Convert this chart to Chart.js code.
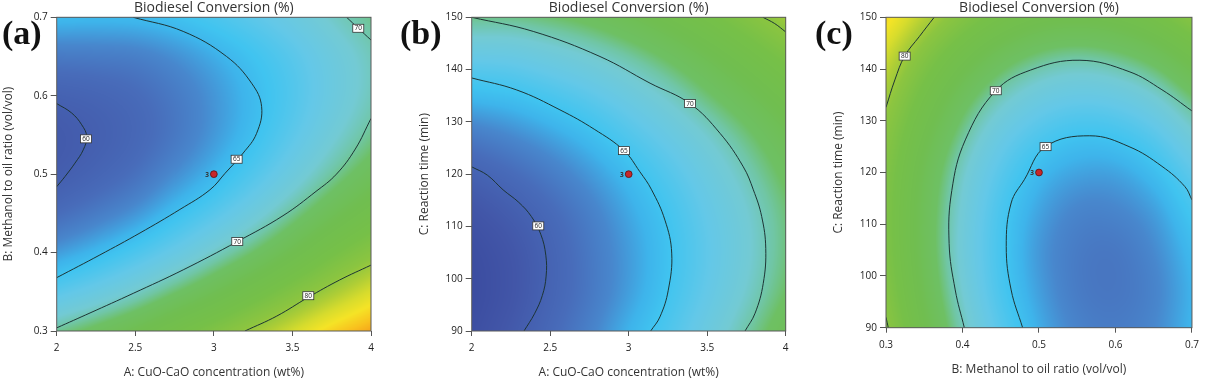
<!DOCTYPE html>
<html><head><meta charset="utf-8">
<script src="https://cdn.jsdelivr.net/npm/chart.js@4.4.1/dist/chart.umd.min.js"></script>
<style>
html,body{margin:0;padding:0;background:#fff;}
body{width:1205px;height:380px;position:relative;overflow:hidden;}
.pane{position:absolute;top:0;height:380px;}
.plabel{position:absolute;font:bold 34px "Liberation Serif","Times New Roman",serif;line-height:1;color:#111;}
</style></head><body>
<div class="pane" style="left:0px;width:400px"><canvas id="ca" width="400" height="380"></canvas></div>
<div class="pane" style="left:416px;width:400px"><canvas id="cb" width="400" height="380"></canvas></div>
<div class="pane" style="left:830px;width:375px"><canvas id="cc" width="375" height="380"></canvas></div>
<div class="plabel" style="left:2px;top:16px">(a)</div>
<div class="plabel" style="left:400px;top:16px">(b)</div>
<div class="plabel" style="left:815px;top:16px">(c)</div>
<script>
// ---------- text ----------
const chartTitle = 'Biodiesel Conversion (%)';
const titleA = 'A: CuO-CaO concentration (wt%)';
const titleB = 'B: Methanol to oil ratio (vol/vol)';
const titleC = 'C: Reaction time (min)';

// ---------- ticks ----------
const ticksA = [2, 2.5, 3, 3.5, 4];
const tickLabelsA = ['2', '2.5', '3', '3.5', '4'];
const ticksB = [0.3, 0.4, 0.5, 0.6, 0.7];
const tickLabelsB = ['0.3', '0.4', '0.5', '0.6', '0.7'];
const ticksC = [90, 100, 110, 120, 130, 140, 150];
const tickLabelsC = ['90', '100', '110', '120', '130', '140', '150'];

// ---------- response grids ----------
const gridA = [2, 2.25, 2.5, 2.75, 3, 3.25, 3.5, 3.75, 4];
const gridB = [0.7, 0.65, 0.6, 0.55, 0.5, 0.45, 0.4, 0.35, 0.3];        // top -> bottom
const gridBx = [0.3, 0.35, 0.4, 0.45, 0.5, 0.55, 0.6, 0.65, 0.7];       // left -> right
const gridC = [150, 142.5, 135, 127.5, 120, 112.5, 105, 97.5, 90];      // top -> bottom

// (a) conversion vs A (columns) and B (rows)
const convAB = [
  [64.4,64.3,64.4,64.8,65.6,66.6,67.8,69.3,70.7],
  [61.8,61.9,62.1,62.8,63.8,65.0,66.4,68.1,69.7],
  [60.1,60.4,60.9,61.8,63.0,64.4,66.0,67.9,69.7],
  [59.4,59.9,60.6,61.7,63.1,64.7,66.6,68.7,70.7],
  [59.7,60.4,61.3,62.7,64.2,66.0,68.1,70.4,72.6],
  [61.0,61.9,63.0,64.6,66.3,68.3,70.6,73.1,75.5],
  [63.2,64.3,65.7,67.4,69.4,71.5,74.0,76.8,79.4],
  [66.4,67.7,69.3,71.3,73.4,75.8,78.5,81.4,84.3],
  [70.6,72.1,73.9,76.1,78.4,81.0,83.9,87.1,89.5]
];
// (b) conversion vs A (columns) and C (rows)
const convAC = [
  [70.8,70.8,71.3,72.1,73.3,74.8,76.6,78.7,81.1],
  [67.3,67.5,68.2,69.1,70.3,71.8,73.6,75.6,77.8],
  [64.4,64.8,65.6,66.6,67.9,69.4,71.2,73.1,75.2],
  [61.9,62.6,63.5,64.6,66.0,67.5,69.2,71.1,73.2],
  [60.1,60.9,61.9,63.1,64.5,66.1,67.9,69.8,71.9],
  [58.8,59.7,60.8,62.1,63.6,65.2,67.1,69.0,71.1],
  [58.0,59.0,60.3,61.7,63.2,64.9,66.8,68.8,71.0],
  [57.8,58.9,60.3,61.7,63.3,65.1,67.1,69.2,71.5],
  [58.1,59.3,60.7,62.2,64.0,65.8,67.9,70.2,72.7]
];
// (c) conversion vs B (columns) and C (rows)
const convBC = [
  [86.8,82.3,78.8,76.3,74.8,74.4,74.9,76.5,79.2],
  [83.6,78.9,75.3,72.7,71.1,70.5,71.0,72.4,74.9],
  [81.2,76.4,72.6,69.9,68.2,67.5,67.8,69.1,71.5],
  [79.5,74.6,70.7,67.8,66.0,65.1,65.3,66.5,68.8],
  [78.5,73.4,69.4,66.4,64.4,63.5,63.5,64.6,66.7],
  [78.1,72.9,68.8,65.6,63.5,62.4,62.4,63.3,65.3],
  [78.2,72.9,68.6,65.4,63.1,61.9,61.7,62.6,64.4],
  [78.8,73.4,69.0,65.6,63.3,61.9,61.6,62.3,64.0],
  [79.9,74.3,69.8,66.3,63.8,62.3,61.9,62.5,64.1]
];

// ---------- contour lines ----------
const a60 = [[2.0,0.590],[2.095,0.578],[2.159,0.563],[2.191,0.548],[2.169,0.531],[2.116,0.514],[2.053,0.497],[2.0,0.484]];
const a65 = [[2.487,0.700],[2.805,0.682],[3.081,0.650],[3.240,0.616],[3.304,0.586],[3.272,0.552],[3.187,0.527],[3.071,0.501],[2.975,0.480],[2.784,0.455],[2.530,0.425],[2.275,0.397],[2.0,0.368]];
const a70lo = [[4.0,0.571],[3.90,0.532],[3.78,0.500],[3.65,0.478],[3.44,0.447],[3.149,0.414],[2.805,0.378],[2.487,0.348],[2.212,0.323],[2.0,0.304]];
const a70up = [[3.845,0.700],[3.919,0.686],[4.0,0.671]];
const a80 = [[3.198,0.300],[3.40,0.319],[3.601,0.343],[3.80,0.365],[4.0,0.384]];

const b60 = [[2.0,121.4],[2.1,119.8],[2.2,117.0],[2.3,114.6],[2.38,111.9],[2.44,108.5],[2.472,104.5],[2.474,100.5],[2.45,96.8],[2.40,93.3],[2.333,90.0]];
const b65 = [[2.0,138.4],[2.287,136.1],[2.562,132.3],[2.78,128.6],[2.97,124.5],[3.07,120.5],[3.146,117.0],[3.231,111.2],[3.274,104.9],[3.252,97.8],[3.199,92.7],[3.14,90.0]];
const b70 = [[2.0,150.0],[2.392,147.3],[2.817,142.5],[3.136,137.4],[3.390,133.5],[3.582,127.8],[3.730,121.4],[3.794,117.0],[3.847,111.9],[3.873,105.8],[3.857,99.1],[3.805,93.4],[3.741,90.0]];
const b80 = [[3.855,150.0],[3.93,148.8],[4.0,147.2]];

const c80top = [[0.363,150.0],[0.3437,146.3],[0.3244,142.5],[0.3116,137.9],[0.3,132.6]];
const c80low = [[0.3,92.0],[0.3015,91.0],[0.303,90.0]];
const c70 = [[0.4024,90.0],[0.3905,97.3],[0.3825,106.3],[0.386,116.5],[0.4037,126.3],[0.4435,135.8],[0.489,139.8],[0.5535,141.7],[0.6178,139.5],[0.6607,136.0],[0.7,131.9]];
const c65 = [[0.4786,90.0],[0.4636,97.3],[0.4572,105.7],[0.4636,114.1],[0.4808,118.6],[0.5086,125.0],[0.5664,127.1],[0.6178,125.0],[0.6607,121.2],[0.6906,117.3],[0.7,114.7]];

// ---------- contour labels ----------
const labelsAB = [[2.186,0.545,'60'],[3.145,0.519,'65'],[3.149,0.414,'70'],[3.919,0.686,'70'],[3.601,0.345,'80']];
const labelsAC = [[2.424,110.1,'60'],[2.97,124.5,'65'],[3.39,133.5,'70']];
const labelsBC = [[0.3244,142.5,'80'],[0.4435,135.8,'70'],[0.5086,125.0,'65']];

// ---------- design (centre) points ----------
const centreAB = [3, 0.5];
const centreAC = [3, 120];
const centreBC = [0.5, 120];
const centreRuns = '3';

// ---------- colour map ----------
const colorStops = [
  [57,[55,70,155]],[59,[66,86,168]],[61,[72,108,186]],[62.5,[72,135,205]],[64,[62,180,235]],
  [65,[64,196,240]],[67,[100,200,232]],[69,[115,202,212]],[70.3,[112,198,165]],[71.5,[110,192,100]],
  [74,[112,190,80]],[77,[118,192,72]],[80,[140,197,64]],[82,[175,206,54]],[84,[215,220,45]],
  [86,[245,228,38]],[88,[248,195,30]],[90,[245,155,25]]
];
function colorFor(v){
  if (v <= colorStops[0][0]) return colorStops[0][1];
  for (let i = 1; i < colorStops.length; i++){
    if (v <= colorStops[i][0]){
      const [v0,c0] = colorStops[i-1], [v1,c1] = colorStops[i];
      const t = (v - v0)/(v1 - v0);
      return [c0[0]+(c1[0]-c0[0])*t, c0[1]+(c1[1]-c0[1])*t, c0[2]+(c1[2]-c0[2])*t];
    }
  }
  return colorStops[colorStops.length-1][1];
}
function cr(p0,p1,p2,p3,t){return p1+0.5*t*(p2-p0+t*(2*p0-5*p1+4*p2-p3+t*(3*(p1-p2)+p3-p0)));}
function sampleGrid(Z, fx, fy){
  const ny = Z.length, nx = Z[0].length;
  const ix = Math.min(Math.max(Math.floor(fx),0),nx-2), iy = Math.min(Math.max(Math.floor(fy),0),ny-2);
  const tx = fx-ix, ty = fy-iy;
  const g = (r,c) => {
    if (c < 0) return 2*g(r,0)-g(r,1);
    if (c > nx-1) return 2*g(r,nx-1)-g(r,nx-2);
    if (r < 0) return 2*Z[0][c]-Z[1][c];
    if (r > ny-1) return 2*Z[ny-1][c]-Z[ny-2][c];
    return Z[r][c];
  };
  const rows = [];
  for (let k=-1;k<=2;k++){const r=iy+k; rows.push(cr(g(r,ix-1),g(r,ix),g(r,ix+1),g(r,ix+2),tx));}
  return cr(rows[0],rows[1],rows[2],rows[3],ty);
}

const FONT = '"Open Sans", "DejaVu Sans", sans-serif';

const heatPlugin = {
  id: 'heat',
  beforeDatasetsDraw(chart){
    const p = chart.options.plugins.heat;
    const {left,top,right,bottom} = chart.chartArea;
    const xs = chart.scales.x, ys = chart.scales.y;
    const w = Math.round(right-left), h = Math.round(bottom-top);
    const off = document.createElement('canvas'); off.width = w; off.height = h;
    const octx = off.getContext('2d'); const img = octx.createImageData(w,h);
    const gx = p.gx, gy = p.gy, Z = p.z;
    for (let j=0;j<h;j++){
      const vy = ys.getValueForPixel(top + (j+0.5)*(bottom-top)/h);
      const fy = (vy-gy[0])/(gy[gy.length-1]-gy[0])*(gy.length-1);
      for (let i=0;i<w;i++){
        const vx = xs.getValueForPixel(left + (i+0.5)*(right-left)/w);
        const fx = (vx-gx[0])/(gx[gx.length-1]-gx[0])*(gx.length-1);
        const c = colorFor(sampleGrid(Z,fx,fy));
        const k = (j*w+i)*4;
        img.data[k]=c[0]; img.data[k+1]=c[1]; img.data[k+2]=c[2]; img.data[k+3]=255;
      }
    }
    octx.putImageData(img,0,0);
    chart.ctx.drawImage(off,left,top,right-left,bottom-top);
  },
  afterDatasetsDraw(chart){
    const p = chart.options.plugins.heat;
    const ctx = chart.ctx, xs = chart.scales.x, ys = chart.scales.y;
    const {left,top,right,bottom} = chart.chartArea;
    ctx.save();
    ctx.font = '6.5px ' + FONT; ctx.textAlign = 'center'; ctx.textBaseline = 'middle';
    p.labels.forEach(([lx,ly,t]) => {
      const px = xs.getPixelForValue(lx), py = ys.getPixelForValue(ly);
      ctx.fillStyle = '#fff'; ctx.fillRect(px-5.5, py-4, 11, 8);
      ctx.strokeStyle = '#333'; ctx.lineWidth = 0.8; ctx.strokeRect(px-5.5, py-4, 11, 8);
      ctx.fillStyle = '#222'; ctx.fillText(t, px, py+0.3);
    });
    const cx = xs.getPixelForValue(p.point[0]), cy = ys.getPixelForValue(p.point[1]);
    ctx.font = 'bold 6.5px ' + FONT; ctx.fillStyle = '#333'; ctx.textAlign = 'right';
    ctx.fillText(p.runs, cx-5, cy+0.5);
    ctx.strokeStyle = '#5a5a5a'; ctx.lineWidth = 1;
    ctx.strokeRect(left, top, right-left, bottom-top);
    ctx.font = '14px ' + FONT; ctx.fillStyle = '#333'; ctx.textAlign = 'center'; ctx.textBaseline = 'middle';
    ctx.fillText(chartTitle, (left+right)/2, 8);
    ctx.restore();
  }
};

function pairs(arr){ return arr.map(([x,y]) => ({x, y})); }

function makePanel(id, o){
  const lineSets = o.contours.map(c => ({
    type: 'line', data: pairs(c), showLine: true, borderColor: '#1d3434', borderWidth: 1,
    pointRadius: 0, tension: 0.4, fill: false
  }));
  lineSets.push({
    type: 'scatter', data: pairs([o.point]), pointRadius: 3.4, pointBackgroundColor: '#c8282a',
    pointBorderColor: '#5a1010', pointBorderWidth: 0.8
  });
  new Chart(document.getElementById(id), {
    type: 'scatter',
    data: { datasets: lineSets },
    options: {
      responsive: false, animation: false, events: [],
      layout: { padding: { left: 0, top: 17.3, right: o.padRight, bottom: o.padBottom } },
      plugins: {
        legend: { display: false }, tooltip: { enabled: false },
        heat: { gx: o.gx, gy: o.gy, z: o.z, labels: o.labels, point: o.point, runs: centreRuns }
      },
      scales: {
        x: {
          type: 'linear', min: o.xTicks[0], max: o.xTicks[o.xTicks.length-1],
          afterBuildTicks: s => { s.ticks = o.xTicks.map(v => ({ value: v })); },
          afterFit: s => { s.height = 49; },
          ticks: { callback: (v, i) => o.xLabels[i], font: { family: FONT, size: 10 }, color: '#222', padding: 6, maxRotation: 0, autoSkip: false },
          grid: { drawOnChartArea: false, drawTicks: true, tickLength: 5, color: '#555', lineWidth: 1 },
          border: { display: false },
          title: { display: true, text: o.xTitle, font: { family: FONT, size: 12 }, color: '#333', padding: { top: 0, bottom: 0 } }
        },
        y: {
          type: 'linear', min: o.yTicks[0], max: o.yTicks[o.yTicks.length-1],
          afterBuildTicks: s => { s.ticks = o.yTicks.map(v => ({ value: v })); },
          afterFit: s => { s.width = o.yWidth; },
          ticks: { callback: (v, i) => o.yLabels[i], font: { family: FONT, size: 10 }, color: '#222', padding: 3, autoSkip: false },
          grid: { drawOnChartArea: false, drawTicks: true, tickLength: 6, color: '#555', lineWidth: 1 },
          border: { display: false },
          title: { display: true, text: o.yTitle, font: { family: FONT, size: 12 }, color: '#333', padding: { top: 1, bottom: 0 } }
        }
      }
    },
    plugins: [heatPlugin]
  });
}

makePanel('ca', {
  gx: gridA, gy: gridB, z: convAB, contours: [a60, a65, a70lo, a70up, a80], labels: labelsAB, point: centreAB,
  xTicks: ticksA, xLabels: tickLabelsA, yTicks: ticksB, yLabels: tickLabelsB,
  xTitle: titleA, yTitle: titleB, yWidth: 56.7, padRight: 29, padBottom: 0
});
makePanel('cb', {
  gx: gridA, gy: gridC, z: convAC, contours: [b60, b65, b70, b80], labels: labelsAC, point: centreAC,
  xTicks: ticksA, xLabels: tickLabelsA, yTicks: ticksC, yLabels: tickLabelsC,
  xTitle: titleA, yTitle: titleC, yWidth: 55.7, padRight: 30.3, padBottom: 0
});
makePanel('cc', {
  gx: gridBx, gy: gridC, z: convBC, contours: [c80top, c80low, c70, c65], labels: labelsBC, point: centreBC,
  xTicks: ticksB, xLabels: tickLabelsB, yTicks: ticksC, yLabels: tickLabelsC,
  xTitle: titleB, yTitle: titleC, yWidth: 56, padRight: 7.7, padBottom: 3.3
});
</script>
</body></html>
